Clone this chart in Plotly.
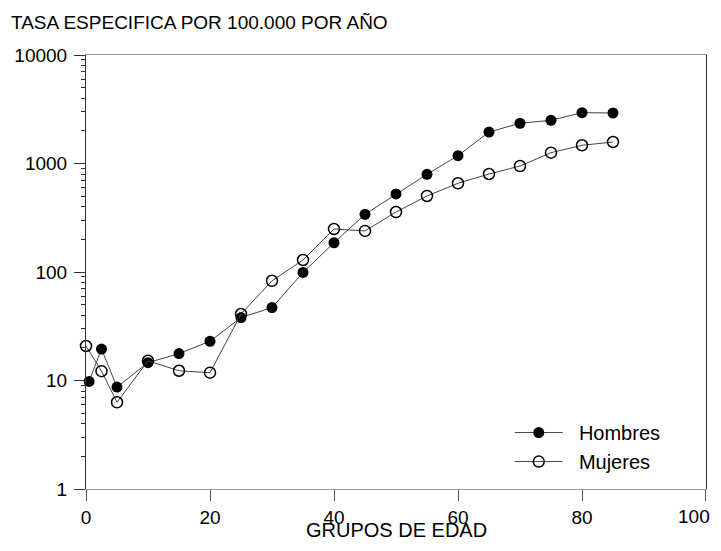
import plotly.graph_objects as go

# Data
edad_h = [0.5, 2.5, 5, 10, 15, 20, 25, 30, 35, 40, 45, 50, 55, 60, 65, 70, 75, 80, 85]
hombres = [9.8, 19.5, 8.7, 14.6, 17.7, 23, 38, 47, 99, 186, 340, 524, 795, 1180, 1950, 2350, 2500, 2940, 2920]

edad_m = [0, 2.5, 5, 10, 15, 20, 25, 30, 35, 40, 45, 50, 55, 60, 65, 70, 75, 80, 85]
mujeres = [20.8, 12.2, 6.3, 15.2, 12.3, 11.8, 41, 83, 129, 249, 239, 357, 502, 657, 800, 948, 1259, 1472, 1578]

x_ticks = [0, 20, 40, 60, 80, 100]
x_labels = ["0", "20", "40", "60", "80", ""]
x_last_label = "100"
y_ticks = [1, 10, 100, 1000, 10000]
y_labels = ["1", "10", "100", "1000", "10000"]

FONT = "Liberation Sans, Arial, sans-serif"
NB = "\u00a0\u00a0"

fig = go.Figure()
fig.add_trace(go.Scatter(
    x=edad_h, y=hombres, name=NB + "Hombres", mode="lines+markers",
    line=dict(color="#444444", width=1),
    marker=dict(symbol="circle", size=11, color="black"),
    cliponaxis=False,
))
fig.add_trace(go.Scatter(
    x=edad_m, y=mujeres, name=NB + "Mujeres", mode="lines+markers",
    line=dict(color="#444444", width=1),
    marker=dict(symbol="circle-open", size=11, color="black", line=dict(width=1.5)),
    cliponaxis=False,
))

# page body has an 8px margin, so the figure is sized/offset to fit the window
fig.update_layout(
    width=705, height=535,
    margin=dict(l=78, r=7, t=47, b=54),
    paper_bgcolor="white", plot_bgcolor="white",
    font=dict(family=FONT, size=18, color="black"),
    showlegend=True,
    legend=dict(
        x=0.6835, y=0.175, xanchor="left", yanchor="top",
        bgcolor="rgba(0,0,0,0)", borderwidth=0,
        font=dict(family=FONT, size=20, color="black"),
        itemwidth=48, tracegroupgap=0,
    ),
    annotations=[
        dict(
            text="TASA ESPECIFICA POR 100.000 POR AÑO",
            xref="paper", yref="paper", x=-0.124, y=1.046,
            xanchor="left", yanchor="bottom", showarrow=False,
            font=dict(family=FONT, size=19, color="black"),
        ),
        dict(
            text=x_last_label,
            xref="paper", yref="paper", x=1.009, y=-0.035,
            xanchor="right", yanchor="top", showarrow=False,
            font=dict(family=FONT, size=19, color="black"),
        ),
        dict(
            text="GRUPOS DE EDAD",
            xref="paper", yref="paper", x=0.5, y=-0.1244,
            xanchor="center", yanchor="bottom", showarrow=False,
            font=dict(family=FONT, size=20, color="black"),
        ),
    ],
)

fig.update_xaxes(
    range=[0, 100.001], tickvals=x_ticks, ticktext=x_labels, ticks="outside", ticklen=11,
    tickcolor="#555555", showgrid=False, zeroline=False, automargin=False,
    showline=True, linecolor="#999999", linewidth=1, mirror=True,
    tickfont=dict(family=FONT, size=19),
)
fig.update_yaxes(
    type="log", range=[0, 4], tickvals=y_ticks, ticktext=y_labels,
    ticks="outside", ticklen=11, tickcolor="#333333", ticklabelstandoff=3,
    minor=dict(ticks="outside", ticklen=4, dtick="D1", tickcolor="#333333", showgrid=False),
    showgrid=False, zeroline=False, automargin=False,
    showline=True, linecolor="#333333", linewidth=1, mirror=True,
    tickfont=dict(family=FONT, size=19),
)

fig.write_html("out.html")
